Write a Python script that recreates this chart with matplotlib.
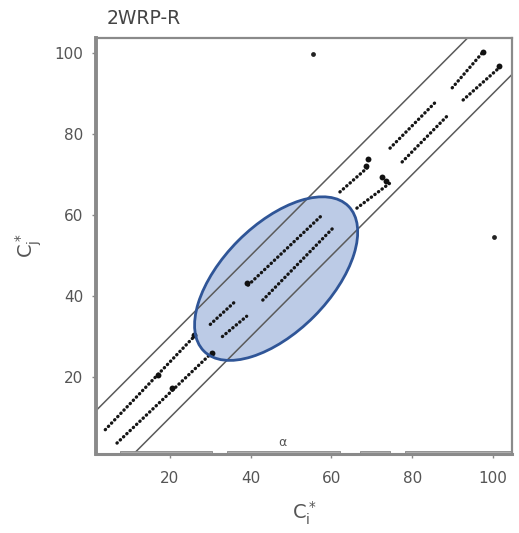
import matplotlib
matplotlib.use("Agg")
import matplotlib.pyplot as plt
from matplotlib.patches import Ellipse

# ---- data ----
title = "2WRP-R"
ticks = [20, 40, 60, 80, 100]

# dotted segments of the two series (start x, end x, start y, end y)
upper_x0 = [4.0, 30.0, 39.4, 62.1, 74.5, 89.9]
upper_x1 = [26.0, 36.0, 57.7, 68.8, 85.6, 97.5]
upper_y0 = [7.0, 33.0, 42.7, 65.7, 76.5, 91.4]
upper_y1 = [30.0, 38.5, 60.0, 71.6, 87.7, 100.2]

lower_x0 = [6.9, 33.0, 43.0, 66.3, 77.5, 92.6]
lower_x1 = [30.4, 39.0, 60.4, 74.5, 88.9, 101.7]
lower_y0 = [3.7, 30.0, 39.0, 61.7, 73.1, 88.4]
lower_y1 = [26.0, 35.0, 56.8, 67.9, 84.7, 96.5]

# heavier blobs on the series
blob_x = [17.0, 26.0, 20.5, 30.4, 68.6, 69.0, 73.5, 72.5, 97.5, 101.5, 39.0]
blob_y = [20.5, 30.5, 17.3, 26.0, 72.2, 73.8, 68.5, 69.3, 100.3, 96.7, 43.2]

# isolated points
iso_x = [55.4, 100.2]
iso_y = [99.8, 54.6]

# tolerance band offsets
band_offsets = [10.0, -10.0]

# rug bands along the x axis (start, end)
rug_start = [7.7, 34.1, 67.0, 78.2]
rug_end = [30.4, 62.1, 74.5, 104.5]

fig = plt.figure(figsize=(5.19, 5.33), dpi=100)
ax = fig.add_axes([96/519, 1-454/533, (512-96)/519, (454-38)/533])
ax.set_xlim(1.7, 104.7)
ax.set_ylim(1.0, 103.7)

# highlight ellipse (fill beneath the marks, outline on top)
ell = Ellipse((46.3, 44.3), width=50.6, height=26.5, angle=45,
              facecolor="#bccbe6", edgecolor="none", zorder=1)
ax.add_patch(ell)
ell2 = Ellipse((46.3, 44.3), width=50.6, height=26.5, angle=45,
               facecolor="none", edgecolor="#2f5597", lw=2.0, zorder=5)
ax.add_patch(ell2)

# band lines
for off in band_offsets:
    ax.plot([-10, 120], [-10 + off, 120 + off], color="#5a5a5a", lw=1.1, zorder=2)

# dotted series
for xs0, xs1, ys0, ys1 in [(upper_x0, upper_x1, upper_y0, upper_y1),
                           (lower_x0, lower_x1, lower_y0, lower_y1)]:
    for a, b, c, d in zip(xs0, xs1, ys0, ys1):
        ax.plot([a, b], [c, d], color="#151515", lw=2.4,
                linestyle=(0, (0.1, 1.25)), dash_capstyle="round", zorder=3)

ax.scatter(blob_x, blob_y, s=18, color="#111111", zorder=3, linewidths=0)
ax.scatter(iso_x, iso_y, s=12, color="#222222", zorder=3, linewidths=0)

# rug on bottom axis
ax.broken_barh(list(zip(rug_start, [e - s for s, e in zip(rug_start, rug_end)])),
               (1.0, 0.8), facecolors="#b0b0b0", edgecolors="#888888", lw=0.6, zorder=2)
ax.text(47.8, 2.3, "α", fontsize=9, color="#555555", ha="center", va="bottom")

# axes styling
for side, sp in ax.spines.items():
    sp.set_color("#8a8a8a")
ax.spines["left"].set_linewidth(2.8)
ax.spines["bottom"].set_linewidth(2.2)
ax.spines["top"].set_linewidth(1.6)
ax.spines["right"].set_linewidth(1.6)

ax.set_xticks(ticks)
ax.set_yticks(ticks)
ax.tick_params(direction="out", length=3, width=1, color="#888888",
               labelsize=11, labelcolor="#555555")
ax.tick_params(axis="x", pad=9)
ax.tick_params(axis="y", pad=6)

ax.set_xlabel(r"$\mathregular{C_i^*}$", fontsize=14, color="#555555", labelpad=10)
ax.set_ylabel(r"$\mathregular{C_j^*}$", fontsize=14, color="#555555", labelpad=8)

fig.text(107/519, 1-18/533, title, fontsize=13.5, color="#444444",
         ha="left", va="center")

fig.savefig("out.png", dpi=100)
